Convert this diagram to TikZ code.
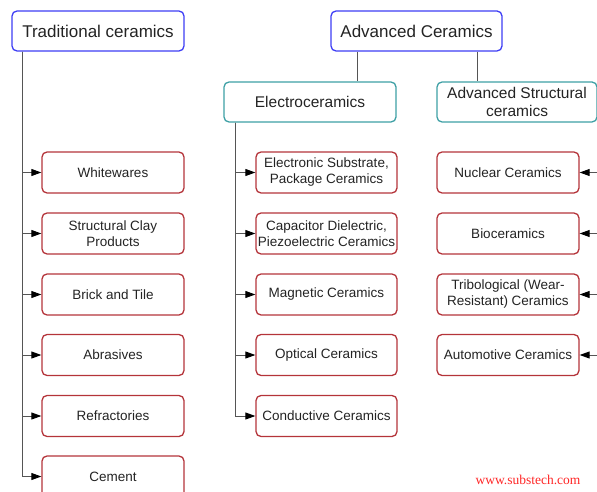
\documentclass[tikz,border=0pt]{standalone}
\usepackage{fontspec}
\setmainfont{Liberation Sans}
\newfontfamily\wmfont{Liberation Serif}
\usetikzlibrary{arrows.meta}
\definecolor{topblue}{RGB}{62,62,245}
\definecolor{subteal}{RGB}{62,160,165}
\definecolor{itemred}{RGB}{180,52,58}
\definecolor{linegray}{RGB}{85,85,85}
\definecolor{txtgray}{RGB}{35,35,35}
\tikzset{
  topbox/.style={draw=topblue, line width=1.3pt, rounded corners=5pt, minimum width=172, minimum height=40, inner sep=0pt, text=txtgray, align=center, font=\fontsize{17}{20}\selectfont},
  subbox/.style={draw=subteal, line width=1.3pt, rounded corners=5pt, minimum width=172, minimum height=40, inner sep=0pt, text=txtgray, align=center, font=\fontsize{15.5}{18.5}\selectfont},
  itembox/.style={draw=itemred, line width=1.3pt, rounded corners=5pt, minimum width=142, minimum height=41, inner sep=0pt, text=txtgray, align=center, font=\fontsize{13.5}{16}\selectfont},
  link/.style={draw=linegray, line width=0.9pt},
  tip/.style={-{Triangle[length=10pt,width=7pt,color=black]}}
}
\begin{document}
\begin{tikzpicture}[x=1pt,y=-1pt]
	\useasboundingbox (0,0) rectangle (597,492);
	%heads
	\node [topbox] (trad) at (98,31) {Traditional ceramics};
	\node [topbox, minimum width=171] (adv) at (416.5,31) {Advanced Ceramics};
	\node [subbox] (elec) at (310,102) {Electroceramics};
	\node [subbox, minimum width=160] (struct) at (517,102) {Advanced Structural\\ceramics};
	%traditional
	\node [itembox] (white) at (113,172.5) {Whitewares};
	\node [itembox] (clay) at (113,233.5) {Structural Clay\\Products};
	\node [itembox] (brick) at (113,294.5) {Brick and Tile};
	\node [itembox] (abras) at (113,355) {Abrasives};
	\node [itembox] (refr) at (113,416) {Refractories};
	\node [itembox] (cement) at (113,476.5) {Cement};
	%electro
	\node [itembox, minimum width=141] (substr) at (326.5,172.5) {Electronic Substrate,\\Package Ceramics};
	\node [itembox, minimum width=141] (capac) at (326.5,233.5) {Capacitor Dielectric,\\Piezoelectric Ceramics};
	\node [itembox, minimum width=141] (magn) at (326.5,294.5) {Magnetic Ceramics};
	\node [itembox, minimum width=141] (optic) at (326.5,355) {Optical Ceramics};
	\node [itembox, minimum width=141] (conduct) at (326.5,416) {Conductive Ceramics};
	%structural
	\node [itembox] (nuclear) at (508,172.5) {Nuclear Ceramics};
	\node [itembox] (bio) at (508,233.5) {Bioceramics};
	\node [itembox] (tribo) at (508,294.5) {Tribological (Wear-\\Resistant) Ceramics};
	\node [itembox] (auto) at (508,355) {Automotive Ceramics};
	%trunks
	\coordinate (tradtrunk) at (22,0);
	\coordinate (electrunk) at (235,0);
	\coordinate (advleft) at (357,0);
	\coordinate (advright) at (477,0);
	\coordinate (righttrunk) at (605,0);
	\draw [link] (adv.south -| advleft) -- (elec.north -| advleft);
	\draw [link] (adv.south -| advright) -- (struct.north -| advright);
	\draw [link, tip] (trad.south -| tradtrunk) |- (white.west);
	\draw [link, tip] (trad.south -| tradtrunk) |- (clay.west);
	\draw [link, tip] (trad.south -| tradtrunk) |- (brick.west);
	\draw [link, tip] (trad.south -| tradtrunk) |- (abras.west);
	\draw [link, tip] (trad.south -| tradtrunk) |- (refr.west);
	\draw [link, tip] (trad.south -| tradtrunk) |- (cement.west);
	\draw [link, tip] (elec.south -| electrunk) |- (substr.west);
	\draw [link, tip] (elec.south -| electrunk) |- (capac.west);
	\draw [link, tip] (elec.south -| electrunk) |- (magn.west);
	\draw [link, tip] (elec.south -| electrunk) |- (optic.west);
	\draw [link, tip] (elec.south -| electrunk) |- (conduct.west);
	\draw [link, tip] (nuclear.east -| righttrunk) -- (nuclear.east);
	\draw [link, tip] (bio.east -| righttrunk) -- (bio.east);
	\draw [link, tip] (tribo.east -| righttrunk) -- (tribo.east);
	\draw [link, tip] (auto.east -| righttrunk) -- (auto.east);
	%site
	\node [text=red!85!white, font=\wmfont\fontsize{13.5}{16}\selectfont] (site) at (528,480) {www.substech.com};
\end{tikzpicture}
\end{document}
